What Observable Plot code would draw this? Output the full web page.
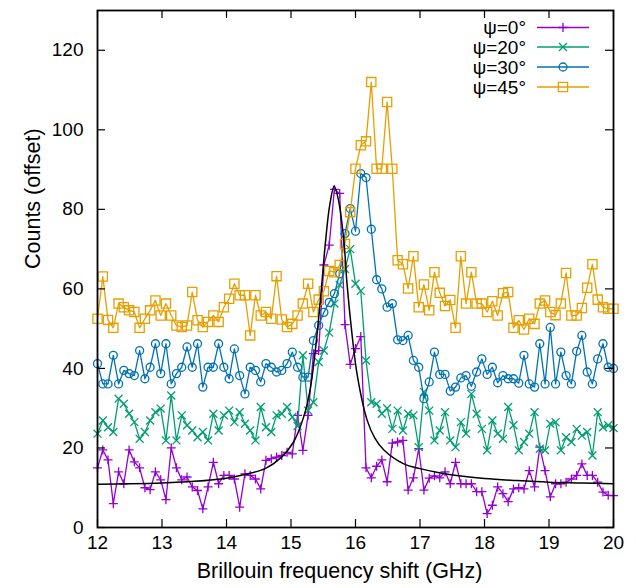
<!DOCTYPE html>
<html><head><meta charset="utf-8">
<script src="https://cdn.jsdelivr.net/npm/d3@7"></script>
<script src="https://cdn.jsdelivr.net/npm/@observablehq/plot@0.6"></script>
<style>
body{margin:0;background:#fff;}
#chart{position:relative;width:636px;height:588px;}
#chart svg{position:absolute;left:0;top:0;}
</style></head><body><div id="chart"></div>
<script>
// Brillouin frequency shift (GHz)
const freq = [12.000,12.082,12.163,12.245,12.327,12.408,12.490,12.571,12.653,12.735,12.816,12.898,12.980,13.061,13.143,13.224,13.306,13.388,13.469,13.551,13.633,13.714,13.796,13.878,13.959,14.041,14.122,14.204,14.286,14.367,14.449,14.531,14.612,14.694,14.776,14.857,14.939,15.020,15.102,15.184,15.265,15.347,15.429,15.510,15.592,15.673,15.755,15.837,15.918,16.000,16.082,16.163,16.245,16.327,16.408,16.490,16.571,16.653,16.735,16.816,16.898,16.980,17.061,17.143,17.224,17.306,17.388,17.469,17.551,17.633,17.714,17.796,17.878,17.959,18.041,18.122,18.204,18.286,18.367,18.449,18.531,18.612,18.694,18.776,18.857,18.939,19.020,19.102,19.184,19.265,19.347,19.429,19.510,19.592,19.673,19.755,19.837,19.918,20.000];

const psi0 = [15,19.5,17,6,14,11,19.5,16.5,15,10,9.5,14,12,7,20,15,12,
  12.7,10.2,9.3,4.7,10.2,16.4,11,13.1,13.1,12.2,5.1,13.5,13.1,12.2,9.7,16.9,
  17.3,17.7,18.1,18.9,18.5,28.2,19.4,28.2,43.7,44.5,66,71,85,84,
  51,41,45,48,15,12.5,15.4,17,11.5,21.2,21.5,21.9,9.4,12.5,19.8,9.4,12.4,13,
  12.5,14,11,16.4,11,11,11,9,9,3.5,5.6,10.2,8.5,6.5,9.7,10,
  9.7,14.3,10.2,20.2,14.3,7.7,11,11,11.4,12.2,13.1,16,13.1,13.1,11.4,8.9,8.1,8];

const psi20 = [23.6,26.9,25.2,24,32.4,31.1,28.6,26.5,22.3,24,26.9,29,29.9,21.9,33.2,21.9,28.2,
  25.7,24.4,22.7,24,21.9,28.6,24.4,28.2,29.4,26.5,29,26.1,24.4,21.9,30.3,
  25.2,24,28.2,28.6,30.3,27.8,25.5,43.3,29.4,31.5,41.6,44.5,49,56.3,61,65,70,
  61.3,59.5,42,31.5,31.1,28.6,30,24.8,29.4,24.4,28.6,28.2,20.2,34.1,29.4,21.9,24.4,
  29,21.9,20.2,26.5,23.6,33.6,28.6,24.8,19.4,26.9,23.6,22.3,30.3,25.7,19.4,21.5,23.6,29,19.8,19.4,26.1,26.5,19.4,22.7,21.5,24.8,23.1,24,18.1,29,25.2,25.7,25];

const psi30 = [41.2,36.1,36.1,43.3,36.1,39.5,38.7,38.2,44.5,37.4,40.3,46.2,38.7,46.2,36.1,38.7,40.3,
  45.4,40.3,46.2,35.3,40.3,40.3,46.2,40.3,37.4,44.9,38.2,33.6,40.3,39.5,36.6,41.2,
  40.3,39.1,39.5,41.2,44.1,40.3,37.8,37.8,47,50.8,54.1,56.6,58.8,63.8,73.9,80.2,74.5,
  89,88,75,62.3,60,55.4,56.3,47.2,47,48.3,42,40.3,32.4,36.6,44.1,
  38.5,38.5,34.3,35.3,37.6,38.2,35.5,39.1,42.4,38.5,40.3,36.4,38.2,37.4,37.4,36.3,43.3,36.1,35.3,46.2,36.1,50.3,36.1,44.1,38.2,36.1,44.3,48.3,39.1,36.1,42.4,46.2,40.3,40];

const psi45 = [52.5,63.1,52.2,50.2,56.3,55.4,54.6,54.2,50.2,52.5,54.6,57.1,53.3,56.3,53.3,50.8,50.4,
  50.8,59.2,52.1,50.4,51.7,53.3,51.7,55.4,57.5,61.3,58.4,58.4,48.3,58.4,53.3,54.2,
  52.5,63.2,52.3,50.4,51.2,53.3,56.3,61.3,54.2,57.3,59.4,64.5,64.2,66,71.3,79.3,90.2,96.1,97.1,
  112,90.2,90.2,107,90.2,67.2,66.2,60.1,68.2,55.4,61.1,54.6,64.2,
  59,55.7,57.2,50.2,68.2,56.3,64.2,56.3,56.3,54.2,56.9,53.3,58.9,59.2,50.2,52.1,49.8,52.5,51.2,56.3,57.1,54.2,53.4,56.3,64,53.3,53.3,55.2,60.3,66.2,57.3,55.4,55,55];

// fitted curve
const fitX = [12.0,12.5,13.0,13.5,14.0,14.3,14.6,14.84,15.04,15.2,15.3,15.38,15.46,15.53,15.6,15.67,15.74,15.82,15.87,15.95,16.03,16.18,16.3,16.44,16.75,17.0,17.32,17.6,18.0,18.5,19.0,19.5,20.0];
const fitY = [10.9,11.0,11.2,11.6,12.4,13.4,14.8,17.5,21.5,28,35,45,58,71,81,85.8,82,72,61,48,38,27,22.5,19.5,16,14.8,13.7,13,12.3,11.8,11.4,11.2,11.0];

const seriesNames = ["ψ=0°","ψ=20°","ψ=30°","ψ=45°"];
const seriesColors = ["#9400d3","#009e73","#0072b2","#e69f00"];
const seriesSymbols = ["plus","times","circle","square"];
const seriesR = [3.0,3.7,4.0,5.2];
const xTicks = [12,13,14,15,16,17,18,19,20];
const yTicks = [0,20,40,60,80,100,120];

const FONT = "'Liberation Sans', Arial, sans-serif";
const W = 636, H = 588, mL = 97, mR = 23, mT = 10, mB = 61;
const innerW = W - mL - mR, innerH = H - mT - mB, tickLen = 8;

const allSeries = [psi0, psi20, psi30, psi45];
const marks = [];
allSeries.forEach((vals, k) => {
  const data = freq.map((f, i) => ({f, v: vals[i]}));
  marks.push(Plot.line(data, {x: "f", y: "v", stroke: seriesColors[k], strokeWidth: 1.3}));
  marks.push(Plot.dot(data, {x: "f", y: "v", symbol: seriesSymbols[k], r: seriesR[k], stroke: seriesColors[k], fill: "none", strokeWidth: 1.3}));
});
const fit = fitX.map((x, i) => ({x, y: fitY[i]}));
marks.push(Plot.line(fit, {x: "x", y: "y", stroke: "black", strokeWidth: 1.5, curve: "catmull-rom"}));

// inward mirrored ticks
marks.push(Plot.tickX(xTicks, {x: d => d, insetTop: innerH - tickLen, stroke: "black", strokeWidth: 1.2}));
marks.push(Plot.tickX(xTicks, {x: d => d, insetBottom: innerH - tickLen, stroke: "black", strokeWidth: 1.2}));
marks.push(Plot.tickY(yTicks, {y: d => d, insetLeft: innerW - tickLen, stroke: "black", strokeWidth: 1.2}));
marks.push(Plot.tickY(yTicks, {y: d => d, insetRight: innerW - tickLen, stroke: "black", strokeWidth: 1.2}));
marks.push(Plot.frame({stroke: "black", strokeWidth: 1.8}));

// tick labels
marks.push(Plot.text(xTicks, {x: d => d, text: d => String(d), frameAnchor: "bottom", dy: 21, fontSize: 19, fontFamily: FONT, fill: "black"}));
marks.push(Plot.text(yTicks, {y: d => d, text: d => String(d), frameAnchor: "left", dx: -14, textAnchor: "end", fontSize: 19, fontFamily: FONT, fill: "black"}));
// axis labels
marks.push(Plot.text(["Brillouin frequency shift (GHz)"], {text: d => d, frameAnchor: "bottom", dy: 50, dx: -16, fontSize: 21.5, fontFamily: FONT, fill: "black"}));
marks.push(Plot.text(["Counts (offset)"], {text: d => d, frameAnchor: "left", dx: -64, rotate: -90, fontSize: 21.5, fontFamily: FONT, fill: "black"}));

const chart = Plot.plot({
  width: W, height: H,
  marginLeft: mL, marginRight: mR, marginTop: mT, marginBottom: mB,
  x: {domain: [12, 20], axis: null},
  y: {domain: [0, 130], axis: null},
  style: {background: "#fff", fontFamily: FONT},
  marks
});
document.getElementById("chart").appendChild(chart);

// legend overlay (inside plot, top right)
const lg = d3.select("#chart").append("svg")
  .attr("width", W).attr("height", H)
  .style("pointer-events", "none");
const rowY = [27.5, 47, 67, 87];
seriesNames.forEach((name, k) => {
  const y = rowY[k];
  lg.append("text").attr("x", 526).attr("y", y).attr("dy", "0.35em")
    .attr("text-anchor", "end").attr("font-size", 19).attr("font-family", FONT)
    .attr("fill", "black").text(name);
  lg.append("line").attr("x1", 537).attr("x2", 589).attr("y1", y).attr("y2", y)
    .attr("stroke", seriesColors[k]).attr("stroke-width", 1.3);
  const symMap = {plus: d3.symbolPlus, times: d3.symbolTimes, circle: d3.symbolCircle, square: d3.symbolSquare};
  const r = seriesR[k];
  lg.append("path").attr("transform", `translate(563,${y})`)
    .attr("d", d3.symbol(symMap[seriesSymbols[k]], Math.PI * r * r)())
    .attr("fill", "none").attr("stroke", seriesColors[k]).attr("stroke-width", 1.3);
});
</script>
</body></html>
